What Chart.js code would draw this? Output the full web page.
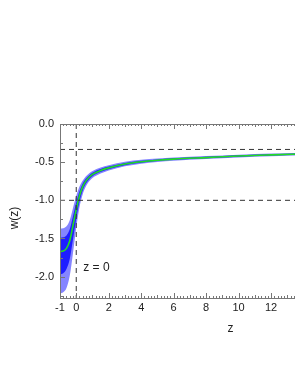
<!DOCTYPE html>
<html>
<head>
<meta charset="utf-8">
<script src="https://cdn.jsdelivr.net/npm/chart.js@4.4.1/dist/chart.umd.min.js"></script>
<style>
  html, body { margin: 0; padding: 0; background: #fff; overflow: hidden; }
  #wrap { position: absolute; left: 0; top: 0; width: 420px; height: 382px; }
</style>
</head>
<body>
<div id="wrap"><canvas id="chart" width="420" height="382"></canvas></div>
<script>
  // redshift grid and reconstructed w(z): median + 1σ / 2σ bounds
  const Z = [-1, -0.8, -0.6, -0.4, -0.2, 0, 0.2, 0.4, 0.6, 0.8, 1, 1.5, 2, 3, 4, 5, 6, 8, 10, 12, 14];
  const W_MID = [-1.67, -1.665, -1.63, -1.53, -1.33, -1.12, -0.94, -0.82, -0.745, -0.695, -0.66, -0.61, -0.575, -0.525, -0.495, -0.475, -0.46, -0.44, -0.42, -0.405, -0.392];
  const W_HI1 = [-1.49, -1.485, -1.46, -1.38, -1.21, -1.03, -0.88, -0.78, -0.715, -0.67, -0.638, -0.59, -0.558, -0.51, -0.483, -0.464, -0.45, -0.43, -0.411, -0.397, -0.384];
  const W_LO1 = [-1.97, -1.955, -1.9, -1.77, -1.51, -1.24, -1.02, -0.87, -0.78, -0.723, -0.684, -0.63, -0.592, -0.54, -0.507, -0.486, -0.47, -0.45, -0.429, -0.413, -0.4];
  const W_HI2 = [-1.37, -1.365, -1.34, -1.26, -1.1, -0.94, -0.82, -0.74, -0.685, -0.645, -0.615, -0.57, -0.54, -0.495, -0.47, -0.453, -0.44, -0.42, -0.402, -0.388, -0.376];
  const W_LO2 = [-2.22, -2.205, -2.15, -1.99, -1.69, -1.36, -1.09, -0.92, -0.815, -0.75, -0.708, -0.65, -0.61, -0.555, -0.52, -0.497, -0.48, -0.46, -0.438, -0.422, -0.408];

  // reference lines
  const W_LEVELS = [-1 / 3, -1];
  const Z_MARK = 0;

  const X_TICKS = [-1, 0, 2, 4, 6, 8, 10, 12, 14, 16, 18, 20];
  const Y_TICKS = [0, -0.5, -1, -1.5, -2];
  const X_MIN = -1, X_MAX = 20, Y_MIN = -2.28, Y_MAX = 0;

  const LIGHT = "#8585ff";
  const DARK = "#1e1eff";
  const GREEN = "#22dd22";
  const AXIS = "#777";
  const TEXT = "#222";
  const FONT = "'Liberation Sans', Arial, sans-serif";

  const pts = (ys) => Z.map((z, i) => ({ x: z, y: ys[i] }));

  // higher `order` is painted first (underneath)
  const band = (ys, color, fill, order) => ({
    data: pts(ys),
    order: order,
    borderWidth: 0,
    borderColor: "transparent",
    backgroundColor: color,
    pointRadius: 0,
    cubicInterpolationMode: "monotone",
    fill: fill,
  });

  const dashed = (data) => ({
    data: data,
    order: 1,
    borderColor: "#333",
    borderWidth: 1,
    borderDash: [5, 4],
    pointRadius: 0,
    fill: false,
  });

  // inward ticks (major + minor) and frame lines
  const frameTicks = {
    id: "frameTicks",
    afterDraw(chart) {
      const { ctx, chartArea: a, scales } = chart;
      const xs = scales.x, ys = scales.y;
      ctx.save();
      ctx.strokeStyle = AXIS;
      ctx.lineWidth = 1;
      ctx.beginPath();
      ctx.moveTo(a.left + 0.5, a.top);
      ctx.lineTo(a.left + 0.5, a.bottom);
      ctx.moveTo(a.left, a.top + 0.5);
      ctx.lineTo(a.right, a.top + 0.5);
      ctx.moveTo(a.left, a.bottom + 0.5);
      ctx.lineTo(a.right, a.bottom + 0.5);
      // x minor every 0.2
      for (let k = 0; k <= (X_MAX - X_MIN) * 5; k++) {
        const v = X_MIN + k * 0.2;
        const px = Math.round(xs.getPixelForValue(v)) + 0.5;
        const labelled = X_TICKS.some((t) => Math.abs(t - v) < 1e-6);
        const whole = Math.abs(v - Math.round(v)) < 1e-6;
        const len = labelled ? 5 : whole ? 3 : 2;
        ctx.moveTo(px, a.bottom);
        ctx.lineTo(px, a.bottom - len);
        ctx.moveTo(px, a.top);
        ctx.lineTo(px, a.top + len);
      }
      // y major / minor
      for (let v = 0; v >= Y_MIN - 1e-6; v -= 0.25) {
        const py = Math.round(ys.getPixelForValue(v)) + 0.5;
        const len = Math.abs(v * 2 - Math.round(v * 2)) < 1e-6 ? 5 : 3;
        ctx.moveTo(a.left, py);
        ctx.lineTo(a.left + len, py);
      }
      ctx.stroke();

      // annotation text and rotated y title
      ctx.fillStyle = TEXT;
      ctx.font = "12px " + FONT;
      ctx.textBaseline = "middle";
      ctx.textAlign = "left";
      ctx.fillText("z = 0", xs.getPixelForValue(Z_MARK) + 7, 268);
      ctx.translate(15, 218);
      ctx.rotate(-Math.PI / 2);
      ctx.textAlign = "center";
      ctx.fillText("w(z)", 0, 0);
      ctx.restore();
    },
  };

  new Chart(document.getElementById("chart"), {
    type: "line",
    data: {
      datasets: [
        band(W_HI2, LIGHT, "+1", 6),
        band(W_LO2, "transparent", false, 6),
        band(W_HI1, DARK, "+1", 4),
        band(W_LO1, "transparent", false, 4),
        {
          data: pts(W_MID),
          order: 2,
          borderColor: GREEN,
          borderWidth: 1.6,
          pointRadius: 0,
          cubicInterpolationMode: "monotone",
          fill: false,
        },
        dashed(W_LEVELS.flatMap((w) => [{ x: X_MIN, y: w }, { x: X_MAX, y: w }, { x: null, y: null }])),
        dashed([{ x: Z_MARK, y: Y_MAX }, { x: Z_MARK, y: Y_MIN }]),
      ],
    },
    options: {
      responsive: false,
      animation: false,
      spanGaps: false,
      layout: { padding: { top: 124, right: 19, left: 0, bottom: 0 } },
      plugins: { legend: { display: false }, tooltip: { enabled: false } },
      scales: {
        x: {
          type: "linear",
          min: X_MIN,
          max: X_MAX,
          afterFit: (s) => { s.height = 84; },
          afterBuildTicks: (s) => { s.ticks = X_TICKS.map((v) => ({ value: v })); },
          grid: { display: false, drawTicks: false },
          border: { display: false },
          ticks: {
            color: TEXT,
            padding: 3,
            maxRotation: 0,
            autoSkip: false,
            font: { size: 11, family: FONT },
            callback: (v) => String(v),
          },
          title: {
            display: true,
            text: "z",
            color: TEXT,
            font: { size: 12, family: FONT },
            padding: { top: 0, bottom: 46 },
          },
        },
        y: {
          min: Y_MIN,
          max: Y_MAX,
          afterFit: (s) => { s.width = 60; },
          afterBuildTicks: (s) => { s.ticks = Y_TICKS.map((v) => ({ value: v })); },
          grid: { display: false, drawTicks: false },
          border: { display: false },
          ticks: {
            color: TEXT,
            padding: 6,
            font: { size: 11, family: FONT },
            callback: (v) => Number(v).toFixed(1),
          },
        },
      },
    },
    plugins: [frameTicks],
  });
</script>
</body>
</html>
